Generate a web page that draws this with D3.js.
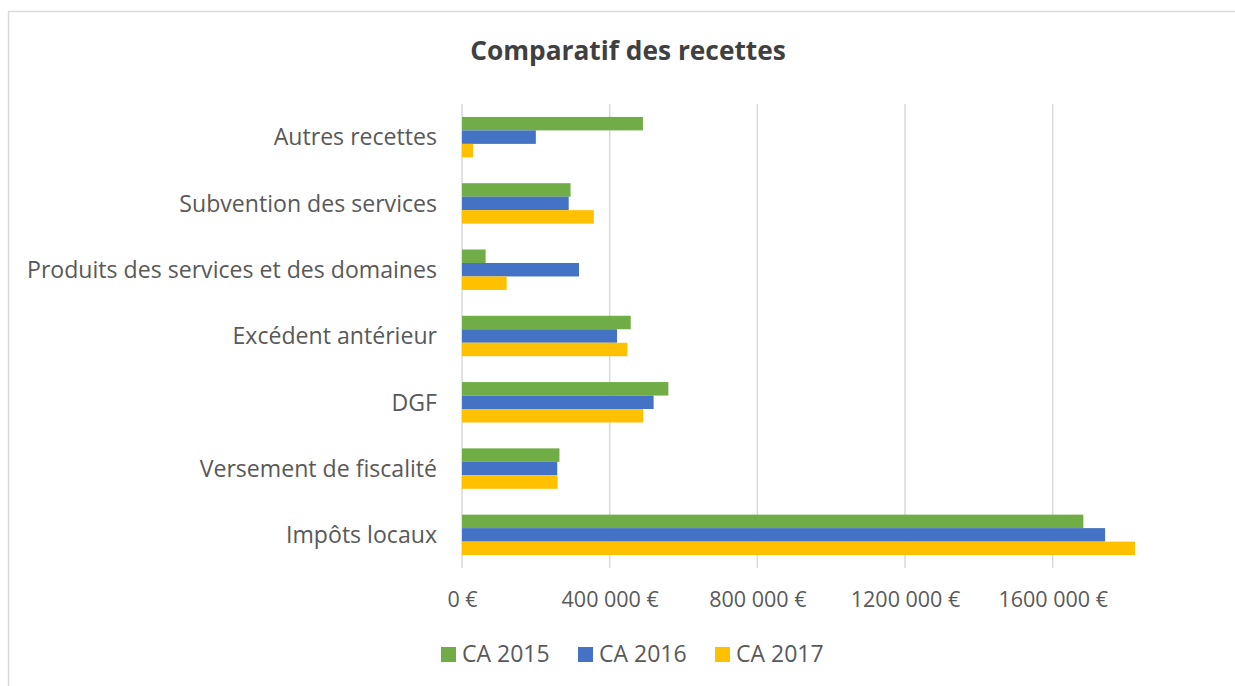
<!DOCTYPE html>
<meta charset="utf-8">
<style>
body { margin: 0; background: #fff; }
text { font-family: "Open Sans", sans-serif; fill: #595959; }
.grid line { stroke: #d9d9d9; stroke-width: 1.5px; }
</style>
<svg width="1235" height="686"></svg>
<script src="https://d3js.org/d3.v7.min.js"></script>
<script>

var categories = ["Autres recettes", "Subvention des services", "Produits des services et des domaines",
                  "Excédent antérieur", "DGF", "Versement de fiscalité", "Impôts locaux"];
var seriesNames = ["CA 2015", "CA 2016", "CA 2017"];
var ca2015 = [490000, 294000, 64000, 457000, 559000, 264000, 1683000];
var ca2016 = [200000, 289000, 317000, 420000, 519000, 258000, 1742000];
var ca2017 = [30000, 357000, 121000, 448000, 491000, 259000, 1823000];
var tickValues = [0, 400000, 800000, 1200000, 1600000];
var tickLabels = ["0 €", "400 000 €", "800 000 €", "1200 000 €", "1600 000 €"];
var colors = ["#70AD47", "#4472C4", "#FFC000"];

var series = [ca2015, ca2016, ca2017];

var svg = d3.select("svg");

// chart frame
svg.append("rect")
    .attr("x", 8.5).attr("y", 11.5)
    .attr("width", 1260).attr("height", 700)
    .attr("fill", "none").attr("stroke", "#d9d9d9").attr("stroke-width", 1.5);

var x = d3.scaleLinear()
    .domain([0, 1850000])
    .range([462, 1145]);

var y = d3.scaleBand()
    .domain(categories)
    .range([104, 568])
    .paddingInner(0.39)
    .paddingOuter(0.195);

var ySeries = d3.scaleBand()
    .domain(seriesNames)
    .range([0, y.bandwidth()]);

// gridlines
svg.append("g")
    .attr("class", "grid")
  .selectAll("line")
  .data(tickValues)
  .enter().append("line")
    .attr("x1", function(d) { return x(d); })
    .attr("x2", function(d) { return x(d); })
    .attr("y1", 104)
    .attr("y2", 568);

// bars
svg.append("g")
  .selectAll("g")
  .data(series)
  .enter().append("g")
    .attr("fill", function(d, i) { return colors[i]; })
  .selectAll("rect")
  .data(function(d, i) { return d.map(function(v, j) { return {cat: categories[j], s: seriesNames[i], v: v}; }); })
  .enter().append("rect")
    .attr("x", x(0))
    .attr("y", function(d) { return y(d.cat) + ySeries(d.s); })
    .attr("width", function(d) { return x(d.v) - x(0); })
    .attr("height", ySeries.bandwidth());

// category axis
var yAxis = d3.axisLeft(y).tickSize(0).tickPadding(25);
svg.append("g")
    .attr("transform", "translate(462,0)")
    .call(yAxis)
    .call(function(g) { g.select(".domain").remove(); })
    .selectAll("text")
    .attr("font-family", "Open Sans")
    .attr("font-size", 23.1)
    .attr("fill", "#595959")
    .attr("dy", "0.36em");

// value axis
var xAxis = d3.axisBottom(x)
    .tickValues(tickValues)
    .tickFormat(function(d, i) { return tickLabels[i]; })
    .tickSize(0)
    .tickPadding(0);
svg.append("g")
    .attr("transform", "translate(0,590)")
    .call(xAxis)
    .call(function(g) { g.select(".domain").remove(); })
    .selectAll("text")
    .attr("font-family", "Open Sans")
    .attr("font-size", 21.5)
    .attr("fill", "#595959")
    .attr("dy", "0.79em");

// title
svg.append("text")
    .attr("x", 628)
    .attr("y", 60)
    .attr("text-anchor", "middle")
    .attr("font-size", 26.3)
    .attr("font-weight", "bold")
    .style("fill", "#404040")
    .text("Comparatif des recettes");

// legend
var legendX = [441, 578, 715];
var legend = svg.append("g")
  .selectAll("g")
  .data(seriesNames)
  .enter().append("g")
    .attr("transform", function(d, i) { return "translate(" + legendX[i] + ",647)"; });

legend.append("rect")
    .attr("width", 15)
    .attr("height", 15)
    .attr("fill", function(d, i) { return colors[i]; });

legend.append("text")
    .attr("x", 21)
    .attr("y", 15)
    .attr("font-size", 23)
    .text(function(d) { return d; });

</script>
